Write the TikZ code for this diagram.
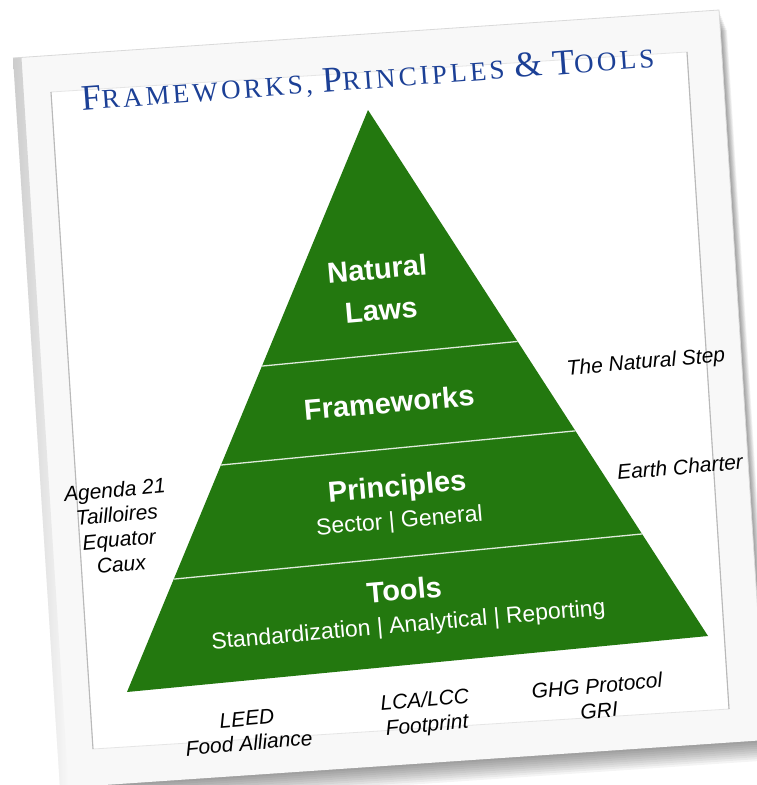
\documentclass[tikz,border=0pt]{standalone}
\usepackage{fontspec}
\usetikzlibrary{calc}
\newfontfamily\helv{Liberation Sans}
\newfontfamily\titlefont[LetterSpace=12]{Liberation Serif}
\definecolor{leaf}{RGB}{35,120,15}
\definecolor{ink}{RGB}{28,64,150}
\definecolor{mat}{HTML}{F8F8F8}
\newcommand{\initcap}[1]{{\fontsize{36}{38}\selectfont #1}}
\tikzset{
  tier/.style={text=white, font=\helv\bfseries\fontsize{29}{33}\selectfont, inner sep=0pt, rotate=5, anchor=base},
  sub/.style={text=white, font=\helv\fontsize{23}{26}\selectfont, inner sep=0pt, rotate=5, anchor=base},
  side/.style={text=black, font=\helv\itshape\fontsize{21}{25}\selectfont, align=center, inner sep=0pt, rotate=5},
  cut/.style={draw=white!85!leaf, line width=1.3pt},
  edge/.style={draw=gray!55, line width=1.1pt},
}

\begin{document}
\begin{tikzpicture}[x=1pt,y=-1pt]
  \useasboundingbox (0,0) rectangle (757,785);
  \fill[white] (0,0) rectangle (757,785);
  \clip (0,0) rectangle (757,785);

  \coordinate (otl) at (13,58);
  \coordinate (otr) at (719,10);
  \coordinate (obr) at (766,740);
  \coordinate (obl) at (60,788);
  \coordinate (itl) at (51,92);
  \coordinate (itr) at (687,52);
  \coordinate (ibr) at (729,709);
  \coordinate (ibl) at (93,749);

  \foreach \d in {2,4,...,20}
    \fill[black,opacity=0.045] ($(otl)+(0.4*\d,\d)$) -- ($(otr)+(0.4*\d,\d)$) -- ($(obr)+(0.4*\d,\d)$) -- ($(obl)+(0.4*\d,\d)$) -- cycle;
  \fill[mat] (otl) -- (otr) -- (obr) -- (obl) -- cycle;
  \shade[left color=gray!40, right color=mat] (otl) -- ($(otl)!0.012!(otr)$) -- ($(obl)!0.012!(obr)$) -- (obl) -- cycle;
  \draw[gray!30, line width=0.8pt] (otl) -- (otr) -- (obr);
  \fill[white, draw=gray!20, line width=0.8pt] (itl) -- (itr) -- (ibr) -- (ibl) -- cycle;
  \draw[edge] (itl) -- (ibl);
  \draw[edge] (itr) -- (ibr);

  \node[text=ink, font=\titlefont\fontsize{27}{28}\selectfont, rotate=4.3, inner sep=0pt] (title) at (368,79)
    {\initcap{F}RAMEWORKS, \initcap{P}RINCIPLES \initcap{\&} \initcap{T}OOLS};

  \coordinate (apex) at (368,110);
  \coordinate (bl) at (127,692);
  \coordinate (br) at (708,636);
  \fill[leaf] (apex) -- (br) -- (bl) -- cycle;
  \foreach \f in {0.44,0.61,0.806}
    \draw[cut] ($(apex)!\f!(bl)$) -- ($(apex)!\f!(br)$);

  \node[tier] (natural) at (378,279) {Natural};
  \node[tier] (laws) at (382,320) {Laws};
  \node[tier] (frameworks) at (390,413) {Frameworks};
  \node[tier] (principles) at (398,496) {Principles};
  \node[sub] (sector) at (400,528) {Sector | General};
  \node[tier] (tools) at (405,600) {Tools};
  \node[sub] (kinds) at (409,632) {Standardization | Analytical | Reporting};

  \node[side] (tns) at (646,363) {The Natural Step};
  \node[side] (earth) at (680,467) {Earth Charter};
  \node[side] (charters) at (118,527) {Agenda 21\\Tailloires\\Equator\\Caux};
  \node[side] (leed) at (248,731) {LEED\\Food Alliance};
  \node[side] (lca) at (426,714) {LCA/LCC\\Footprint};
  \node[side] (ghg) at (598,698) {GHG Protocol\\GRI};
\end{tikzpicture}
\end{document}
